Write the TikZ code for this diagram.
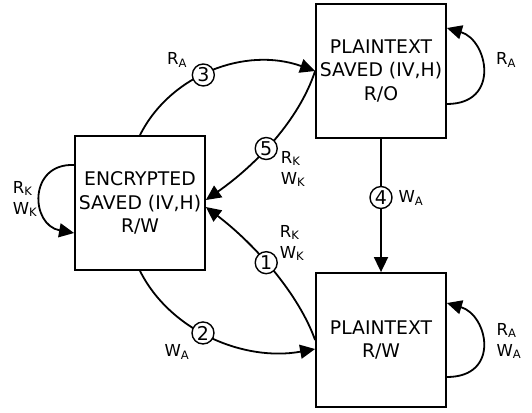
\documentclass[tikz,border=0pt]{standalone}
\usepackage{fontspec}
\setmainfont{DejaVu Sans}
\usepackage{tikz}
\usetikzlibrary{arrows.meta}
\newcommand{\acc}[2]{#1\textsubscript{#2}}

\begin{document}
\begin{tikzpicture}[
  x=1pt,y=-1pt,
  state/.style={draw,line width=1.8pt,minimum width=130pt,minimum height=134pt,
    inner sep=0pt,align=center,font=\fontsize{18.8}{23.5}\selectfont},
  edge/.style={-{Triangle[length=15pt,width=14pt]},line width=1.8pt},
  num/.style={circle,draw,fill=white,line width=1.4pt,inner sep=0pt,
    minimum size=22pt,font=\fontsize{19}{19}\selectfont},
  lbl/.style={align=left,font=\fontsize{16.5}{21}\selectfont,inner sep=0pt}
]
\useasboundingbox (0,0) rectangle (532,412);
% the three states, placed at fixed pixel positions
\node[state] (enc) at (140,203) {ENCRYPTED\\SAVED (IV,H)\\R/W};
\node[state] (sav) at (381,71) {PLAINTEXT\\SAVED (IV,H)\\R/O};
\node[state] (rw) at (381,340) {PLAINTEXT\\R/W};

% transitions between states
\draw[edge] (enc.north) .. controls +(30,-60) and +(-70,-25) .. (sav.west)
  node[num,pos=0.45] (n3) {3};
\draw[edge] (enc.south) .. controls +(30,60) and +(-71,13) .. ([yshift=-9pt]rw.west)
  node[num,pos=0.45] (n2) {2};
\draw[edge] (sav.west) .. controls +(-16,49) and +(50,-35) .. ([yshift=3pt]enc.east)
  node[num,pos=0.56] (n5) {5};
\draw[edge] (rw.west) .. controls +(-16,-45) and +(50,38) .. ([yshift=-4pt]enc.east)
  node[num,pos=0.56] (n1) {1};
\draw[edge] (sav.south) -- (rw.north) node[num,pos=0.44] (n4) {4};

% self loops
\draw[edge] ([yshift=38pt]enc.west) .. controls +(-46,-2) and +(-44,-8) .. ([yshift=-30pt]enc.west);
\draw[edge] ([yshift=-33pt]sav.east) .. controls +(54,0) and +(41,12) .. ([yshift=43pt]sav.east);
\draw[edge] ([yshift=-37pt]rw.east) .. controls +(54,0) and +(41,12) .. ([yshift=37pt]rw.east);

% access labels
\node[lbl] (l3) at (177,60) {\acc{R}{A}};
\node[lbl] (l2) at (177,352) {\acc{W}{A}};
\node[lbl] (l5) at (293,169) {\acc{R}{K}\\\acc{W}{K}};
\node[lbl] (l1) at (292,243) {\acc{R}{K}\\\acc{W}{K}};
\node[lbl] (l4) at (411,198) {\acc{W}{A}};
\node[lbl] (le) at (25,199) {\acc{R}{K}\\\acc{W}{K}};
\node[lbl] (ls) at (506,60) {\acc{R}{A}};
\node[lbl] (lr) at (509,341) {\acc{R}{A}\\\acc{W}{A}};
\end{tikzpicture}
\end{document}
